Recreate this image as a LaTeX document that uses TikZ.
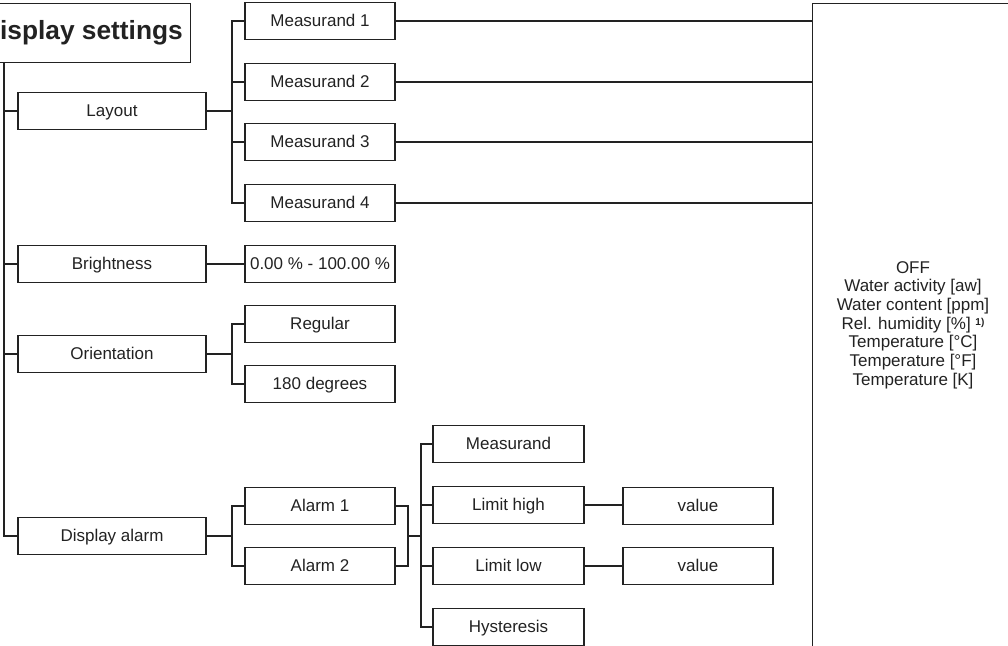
\documentclass[tikz,border=0pt]{standalone}
\usepackage{fontspec}
\setmainfont{Liberation Sans}
\definecolor{ink}{HTML}{222222}
\tikzset{
  box/.style={draw=ink, line width=1.4pt, rectangle, inner sep=0pt, text=ink,
    font=\fontsize{17}{19.5}\selectfont, text height=12.5pt, text depth=0.6pt},
  lbox/.style={box, minimum width=188pt, minimum height=36.5pt},
  mbox/.style={box, minimum width=150pt, minimum height=36.5pt},
  conn/.style={draw=ink, line width=1.9pt}
}
\begin{document}
\begin{tikzpicture}[x=1pt,y=-1pt]
\useasboundingbox (0,0) rectangle (1008,645);
\clip (0,0) rectangle (1008,645);
% title
\node[draw=ink, line width=1.4pt, rectangle, inner sep=0pt, minimum width=222pt, minimum height=59pt, anchor=north east] (title) at (191,3) {};
\node[text=ink, anchor=east, inner sep=0pt, font=\bfseries\fontsize{26.3}{30}\selectfont] (titletext) at (183,33) {Display settings};
% level 1
\node[lbox] (lay) at (112,111) {Layout};
\node[lbox] (bri) at (112,264) {Brightness};
\node[lbox] (ori) at (112,354) {Orientation};
\node[lbox] (dal) at (112,536) {Display alarm};
% level 2
\node[mbox] (m1) at (320,21) {Measurand 1};
\node[mbox] (m2) at (320,82) {Measurand 2};
\node[mbox] (m3) at (320,142) {Measurand 3};
\node[mbox] (m4) at (320,203) {Measurand 4};
\node[mbox] (pct) at (320,264) {0.00 \% - 100.00 \%};
\node[mbox] (reg) at (320,324) {Regular};
\node[mbox] (deg) at (320,384) {180 degrees};
\node[mbox] (al1) at (320,506) {Alarm 1};
\node[mbox] (al2) at (320,566) {Alarm 2};
% level 3
\node[mbox, minimum width=151pt] (ms) at (508.5,444) {Measurand};
\node[mbox, minimum width=151pt] (lh) at (508.5,505) {Limit high};
\node[mbox, minimum width=151pt] (ll) at (508.5,566) {Limit low};
\node[mbox, minimum width=151pt] (hy) at (508.5,627) {Hysteresis};
\node[mbox] (v1) at (698,506) {value};
\node[mbox] (v2) at (698,566) {value};
% big box
\node[draw=ink, line width=1.4pt, rectangle, inner sep=0pt, minimum width=220pt, minimum height=680pt, anchor=north west] (big) at (812,3) {};
\node[text=ink, align=center, inner sep=0pt, font=\fontsize{17}{18.7}\selectfont] (list) at (913,325)
 {OFF\\Water activity [aw]\\Water content [ppm]\\Rel. humidity [\%] {\bfseries\fontsize{10}{10}\selectfont\raisebox{4pt}{1)}}\\Temperature [°C]\\Temperature [°F]\\Temperature [K]};
% coordinates for brackets
\coordinate (tr) at (4,62);
\coordinate (b1) at (232,0);
\coordinate (b2) at (408,0);
\coordinate (b3) at (421,0);
% trunk
\draw[conn] (tr) |- (dal.west);
\foreach \n in {lay,bri,ori} \draw[conn] (tr |- \n.west) -- (\n.west);
% layout bracket
\draw[conn] (lay.east) -- (b1 |- lay.east);
\draw[conn] (m1.west) -| (b1 |- m4.west) -- (m4.west);
\foreach \n in {m2,m3} \draw[conn] (b1 |- \n.west) -- (\n.west);
\foreach \n in {m1,m2,m3,m4} \draw[conn] (\n.east) -- (\n.east -| big.west);
% brightness
\draw[conn] (bri.east) -- (pct.west);
% orientation
\draw[conn] (ori.east) -- (b1 |- ori.east);
\draw[conn] (reg.west) -| (b1 |- deg.west) -- (deg.west);
% alarm
\draw[conn] (dal.east) -- (b1 |- dal.east);
\draw[conn] (al1.west) -| (b1 |- al2.west) -- (al2.west);
\draw[conn] (al1.east) -| (b2 |- al2.east) -- (al2.east);
\draw[conn] (b2 |- dal.east) -- (b3 |- dal.east);
\draw[conn] (ms.west) -| (b3 |- hy.west) -- (hy.west);
\foreach \n in {lh,ll} \draw[conn] (b3 |- \n.west) -- (\n.west);
\draw[conn] (lh.east) -- (lh.east -| v1.west);
\draw[conn] (ll.east) -- (ll.east -| v2.west);
\end{tikzpicture}
\end{document}
